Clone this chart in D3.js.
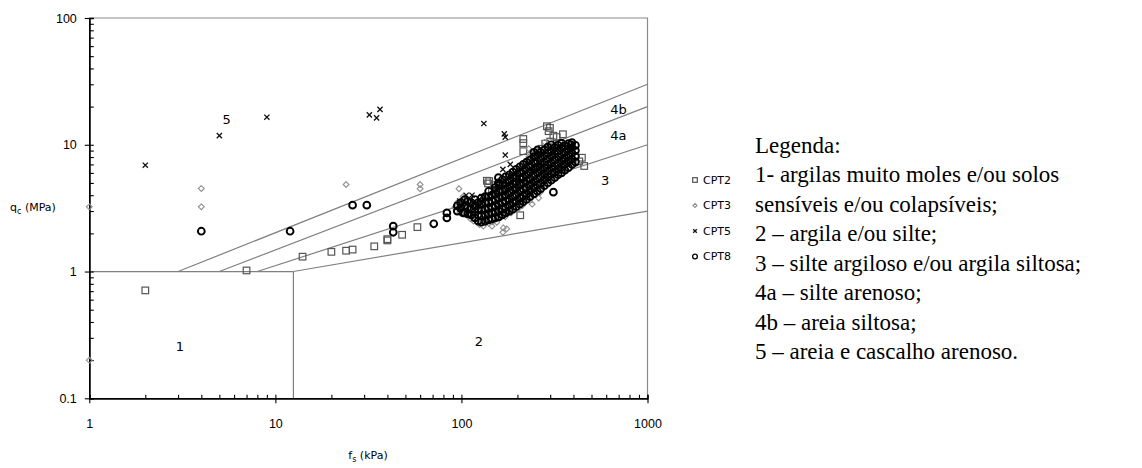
<!DOCTYPE html>
<html>
<head>
<meta charset="utf-8">
<script src="https://cdn.jsdelivr.net/npm/d3@7"></script>
<style>
    body { margin: 0; background: #fff; }
    svg { display: block; }
    .tick text { font-family: Arial, "Liberation Sans", sans-serif; font-size: 12.5px; fill: #000; }
    .lbl { font-family: "DejaVu Sans", Verdana, sans-serif; font-size: 11px; fill: #000; }
    .zone { font-family: "DejaVu Sans", Verdana, sans-serif; font-size: 13px; fill: #000; }
    .legend-text { font-family: "Liberation Serif", "Times New Roman", serif; font-size: 23px; fill: #000; }
</style>
</head>
<body>
<svg width="1142" height="468"></svg>
<script>
// f_s (kPa), q_c (MPa)
const cpt2 = [
    [2, 0.71], [7, 1.02], [14, 1.31], [20, 1.43], [24, 1.46], [26, 1.49], [34, 1.58], [40, 1.8], [40, 1.76],
    [48, 1.95], [58, 2.24], [137, 5.2], [141, 5.17], [139, 4.95], [146, 4.38], [150, 4.8], [160, 4.3], [207, 2.78],
    [215, 11.1], [215, 10.3], [215, 8.9], [282, 10.2], [288, 14], [294, 12.8], [299, 13.6], [312, 11.8],
    [325, 11.5], [351, 12.1], [335, 10.3], [300, 10.6], [330, 9.8], [444, 7.9], [457, 6.8], [430, 7.4],
    [270, 9.3], [250, 8.2], [190, 6.0], [230, 7.0], [260, 6.5], [180, 5.3], [120, 3.3], [110, 3.5], [170, 4.4]
];
const cpt3 = [
    [1, 3.24], [1, 0.2], [4, 4.52], [4, 3.24], [24, 4.86], [60, 4.86], [60, 4.5], [97, 4.5],
    [168, 2.21], [175, 2.17], [167, 2.04], [116, 2.5], [131, 2.28], [146, 2.28],
    [92, 3.2], [95, 3.5], [98, 2.95], [102, 3.9], [105, 3.3], [112, 2.6], [118, 2.9], [122, 3.2], [128, 3.6],
    [135, 2.45], [138, 2.7], [142, 3.0], [148, 2.5], [152, 2.8], [156, 3.1], [160, 3.5], [165, 4.0],
    [172, 2.7], [178, 3.0], [185, 3.4], [192, 3.9], [198, 4.4], [205, 5.0], [212, 3.3], [220, 3.8],
    [228, 4.3], [236, 5.0], [245, 5.8], [255, 6.5], [265, 4.2], [272, 4.8], [280, 5.5], [290, 6.3],
    [298, 7.2], [305, 8.0], [312, 8.8], [325, 5.5], [335, 6.3], [345, 7.0], [360, 7.8], [372, 8.6],
    [250, 9.0], [230, 8.0], [210, 6.5], [190, 5.8], [270, 8.6], [320, 9.5], [260, 3.8], [240, 3.4],
    [125, 2.35], [140, 2.4], [155, 2.45], [185, 2.9], [200, 3.1], [110, 2.75], [230, 9.3], [280, 10.5]
];
const cpt5 = [
    [2, 6.9], [5, 11.8], [9, 16.5], [32, 17.2], [35, 16.3], [36.5, 19], [132, 14.7], [170, 12.2], [172, 11.5],
    [172, 8.3], [183, 7.0], [167, 6.4], [129, 3.9], [129, 3.6], [106, 4.0], [114, 4.0], [98, 3.6], [122, 3.3],
    [150, 4.6], [200, 5.2], [240, 6.2]
];
const cpt8 = [
    [4, 2.08], [12, 2.08], [26, 3.34], [31, 3.34], [43, 2.28], [43, 2.04], [71, 2.38], [83.5, 2.9], [83.5, 2.65],
    [102, 2.9], [158, 5.5], [158, 5.0], [312, 4.23], [387, 10],
    [95, 3.0], [95, 3.3],
    [99, 3.15], [99, 3.5],
    [104, 2.9], [104, 3.3], [104, 3.7],
    [108, 2.85], [108, 3.2], [108, 3.6],
    [113, 2.8], [113, 3.1], [113, 3.5],
    [118, 2.65], [118, 2.95], [118, 3.3], [118, 3.7],
    [123, 2.5], [123, 2.8], [123, 3.1], [123, 3.5],
    [128, 2.45], [128, 2.75], [128, 3.05], [128, 3.4], [128, 3.8],
    [134, 2.5], [134, 2.8], [134, 3.1], [134, 3.5], [134, 3.9],
    [140, 2.55], [140, 2.85], [140, 3.15], [140, 3.5], [140, 3.9], [140, 4.3],
    [146, 2.6], [146, 2.9], [146, 3.2], [146, 3.6], [146, 4.0],
    [152, 2.65], [152, 2.95], [152, 3.3], [152, 3.7], [152, 4.1], [152, 4.6],
    [159, 2.7], [159, 3.0], [159, 3.4], [159, 3.8], [159, 4.3], [159, 4.8],
    [166, 2.8], [166, 3.1], [166, 3.5], [166, 3.9], [166, 4.3], [166, 4.8], [166, 5.3],
    [173, 2.9], [173, 3.2], [173, 3.6], [173, 4.0], [173, 4.5], [173, 5.0], [173, 5.6],
    [181, 3.0], [181, 3.35], [181, 3.7], [181, 4.2], [181, 4.7], [181, 5.2], [181, 5.8],
    [189, 3.1], [189, 3.5], [189, 3.9], [189, 4.4], [189, 4.9], [189, 5.5], [189, 6.1],
    [197, 3.25], [197, 3.6], [197, 4.05], [197, 4.55], [197, 5.1], [197, 5.7], [197, 6.4],
    [206, 3.4], [206, 3.8], [206, 4.3], [206, 4.8], [206, 5.4], [206, 6.0], [206, 6.7],
    [215, 3.55], [215, 3.95], [215, 4.45], [215, 5.0], [215, 5.5], [215, 6.2], [215, 7.0],
    [224, 3.7], [224, 4.1], [224, 4.6], [224, 5.2], [224, 5.8], [224, 6.5], [224, 7.3],
    [234, 3.9], [234, 4.35], [234, 4.85], [234, 5.4], [234, 6.1], [234, 6.8], [234, 7.6],
    [245, 4.1], [245, 4.6], [245, 5.1], [245, 5.7], [245, 6.4], [245, 7.2], [245, 8.0], [245, 8.7],
    [256, 4.3], [256, 4.8], [256, 5.35], [256, 6.0], [256, 6.7], [256, 7.4], [256, 8.3], [256, 9.1],
    [267, 4.5], [267, 5.0], [267, 5.6], [267, 6.3], [267, 7.0], [267, 7.8], [267, 8.7],
    [279, 4.75], [279, 5.3], [279, 5.9], [279, 6.6], [279, 7.3], [279, 8.2], [279, 9.1],
    [291, 5.0], [291, 5.6], [291, 6.2], [291, 6.9], [291, 7.7], [291, 8.6], [291, 9.6],
    [304, 5.25], [304, 5.85], [304, 6.5], [304, 7.2], [304, 8.1], [304, 9.0], [304, 10],
    [317, 5.5], [317, 6.1], [317, 6.8], [317, 7.6], [317, 8.5], [317, 9.5],
    [331, 5.8], [331, 6.4], [331, 7.1], [331, 8.0], [331, 8.9], [331, 9.9],
    [345, 6.0], [345, 6.7], [345, 7.5], [345, 8.4], [345, 9.4], [345, 10.3],
    [360, 6.3], [360, 7.0], [360, 7.8], [360, 8.8], [360, 9.8],
    [376, 6.6], [376, 7.4], [376, 8.2], [376, 9.2], [376, 10.2],
    [393, 7.0], [393, 7.7], [393, 8.6], [393, 9.5], [393, 10.4],
    [410, 7.3], [410, 8.1], [410, 9.0], [410, 9.9]
];

const xTicks = [1, 10, 100, 1000];
const yTicks = [0.1, 1, 10, 100];

// zone boundaries, [f, q] end points
const boundaries = [
    [[1, 1], [12.5, 1]],
    [[12.5, 1], [12.5, 0.1]],
    [[3, 1], [1000, 30]],
    [[5, 1], [1000, 20]],
    [[8, 1], [1000, 10]],
    [[12.5, 1], [1000, 3]]
];
const zoneLabels = [
    { text: '1', f: 3.07, q: 0.257 },
    { text: '2', f: 124, q: 0.28 },
    { text: '3', f: 592, q: 5.25 },
    { text: '4a', f: 698, q: 11.8 },
    { text: '4b', f: 698, q: 19 },
    { text: '5', f: 5.48, q: 15.8 }
];
const seriesNames = ['CPT2', 'CPT3', 'CPT5', 'CPT8'];
const legendLines = [
    'Legenda:',
    '1- argilas muito moles e/ou solos',
    'sensíveis e/ou colapsíveis;',
    '2 – argila e/ou silte;',
    '3 – silte argiloso e/ou argila siltosa;',
    '4a – silte arenoso;',
    '4b – areia siltosa;',
    '5 – areia e cascalho arenoso.'
];

const svg = d3.select('svg');
const plotLeft = 89.3, plotRight = 647.5, plotTop = 18, plotBottom = 398.3;

const xScale = d3.scaleLog().domain([1, 1000]).range([plotLeft, plotRight]);
const yScale = d3.scaleLog().domain([0.1, 100]).range([plotBottom, plotTop]);

const minorValues = (lo, hi) => d3.merge(d3.range(Math.log10(lo), Math.log10(hi)).map(e => d3.range(1, 10).map(m => m * Math.pow(10, e)))).concat([hi]);

// frame (top and right)
svg.append('path')
    .attr('d', `M${plotLeft},${plotTop}H${plotRight}V${plotBottom}`)
    .attr('fill', 'none')
    .attr('stroke', '#8a8a8a')
    .attr('stroke-width', 1.2);

// boundaries
const line = d3.line().x(d => xScale(d[0])).y(d => yScale(d[1]));
svg.selectAll('.boundary').data(boundaries).enter().append('path')
    .attr('class', 'boundary')
    .attr('d', line)
    .attr('fill', 'none')
    .attr('stroke', '#808080')
    .attr('stroke-width', 1.2);

// axes
const styleAxis = g => {
    g.attr('font-family', null).attr('font-size', null);
    g.select('.domain').attr('stroke', '#000').attr('stroke-width', 1.4);
    g.selectAll('.tick line').attr('stroke', '#000').attr('stroke-width', 1.1);
};
svg.append('g')
    .attr('transform', `translate(0,${plotBottom})`)
    .call(d3.axisBottom(xScale).tickValues(minorValues(1, 1000)).tickSize(-3.5).tickFormat(''))
    .call(styleAxis);
svg.append('g')
    .attr('transform', `translate(0,${plotBottom})`)
    .call(d3.axisBottom(xScale).tickValues(xTicks).tickSizeInner(5).tickSizeOuter(0).tickPadding(16).tickFormat(d3.format('~g')))
    .call(styleAxis);
svg.append('g')
    .attr('transform', `translate(${plotLeft},0)`)
    .call(d3.axisLeft(yScale).tickValues(minorValues(0.1, 100)).tickSize(-4.5).tickFormat(''))
    .call(styleAxis);
svg.append('g')
    .attr('transform', `translate(${plotLeft},0)`)
    .call(d3.axisLeft(yScale).tickValues(yTicks).tickSizeInner(4.5).tickSizeOuter(0).tickPadding(8).tickFormat(d3.format('~g')))
    .call(styleAxis);

// axis titles
const yTitle = svg.append('text').attr('class', 'lbl').attr('x', 10).attr('y', 211);
yTitle.append('tspan').text('q');
yTitle.append('tspan').attr('font-size', '8px').attr('dy', 3).text('c');
yTitle.append('tspan').attr('dy', -3).text(' (MPa)');
const xTitle = svg.append('text').attr('class', 'lbl').attr('x', 368).attr('y', 459).attr('text-anchor', 'middle');
xTitle.append('tspan').text('f');
xTitle.append('tspan').attr('font-size', '8px').attr('dy', 3).text('s');
xTitle.append('tspan').attr('dy', -3).text(' (kPa)');

// zone labels
svg.selectAll('.zone').data(zoneLabels).enter().append('text')
    .attr('class', 'zone')
    .attr('x', d => xScale(d.f))
    .attr('y', d => yScale(d.q))
    .attr('dy', '0.36em')
    .attr('text-anchor', 'middle')
    .text(d => d.text);

// markers
const markers = [
    { size: 3.3, draw: (g, s) => g.append('rect').attr('x', -s).attr('y', -s).attr('width', 2 * s).attr('height', 2 * s).attr('fill', 'none').attr('stroke', '#555').attr('stroke-width', 1.2) },
    { size: 2.9, draw: (g, s) => g.append('path').attr('d', `M0,${-s}L${s},0L0,${s}L${-s},0Z`).attr('fill', 'none').attr('stroke', '#8f8f8f').attr('stroke-width', 1.1) },
    { size: 2.6, draw: (g, s) => g.append('path').attr('d', `M${-s},${-s}L${s},${s}M${-s},${s}L${s},${-s}`).attr('stroke', '#111').attr('stroke-width', 1.3) },
    { size: 3.4, draw: (g, s) => g.append('circle').attr('r', s).attr('fill', 'none').attr('stroke', '#000').attr('stroke-width', 1.9) }
];

[cpt2, cpt3, cpt5, cpt8].forEach((data, i) => {
    const g = svg.append('g').attr('class', 'series');
    data.forEach(d => {
        const pt = g.append('g').attr('transform', `translate(${xScale(d[0])},${yScale(d[1])})`);
        markers[i].draw(pt, markers[i].size);
    });
});

// series legend
const legend = svg.append('g').attr('transform', 'translate(695,180)');
seriesNames.forEach((name, i) => {
    const item = legend.append('g').attr('transform', `translate(0,${i * 25.5})`);
    const marker = markers[i].draw(item, markers[i].size * 0.7);
    if (i === 3) marker.attr('stroke-width', 1.3);
    item.append('text').attr('class', 'lbl').attr('font-size', '12px').attr('x', 8).attr('dy', '0.36em').text(name);
});

// text legend
svg.append('g').selectAll('text').data(legendLines).enter().append('text')
    .attr('class', 'legend-text')
    .attr('x', 755)
    .attr('y', (d, i) => 152.5 + i * 29.5)
    .text(d => d);
</script>
</body>
</html>
